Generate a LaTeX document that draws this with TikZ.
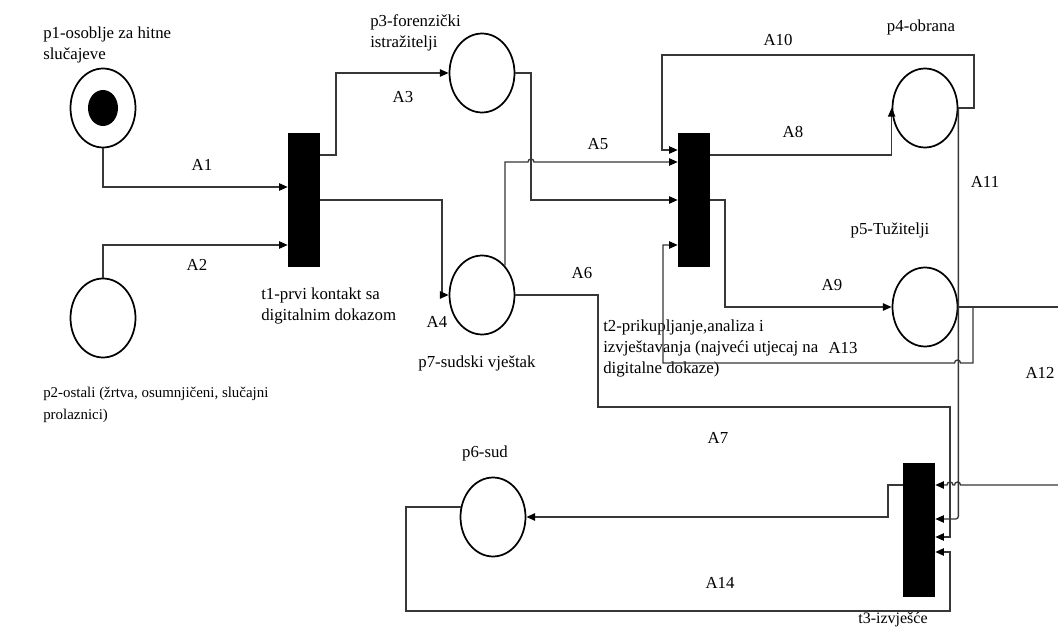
\documentclass[tikz,border=0pt]{standalone}
\usepackage{fontspec}
\setmainfont{Liberation Serif}
\usetikzlibrary{shapes.geometric,arrows.meta}
\definecolor{linec}{RGB}{55,55,55}
\begin{document}
\begin{tikzpicture}[x=0.75pt,y=-0.75pt,
  conn/.style={draw=linec, line width=1pt},
  arr/.style={conn, -{Triangle[length=6.5pt,width=5.5pt,color=black]}},
  placeN/.style={ellipse, draw=black, line width=1.3pt, minimum width=48.75pt, minimum height=59.25pt, inner sep=0pt},
  transN/.style={rectangle, fill=black, minimum width=24pt, minimum height=100.5pt, inner sep=0pt},
  tokenN/.style={ellipse, fill=black, minimum width=22.5pt, minimum height=27pt, inner sep=0pt},
  lbl/.style={inner sep=0pt, anchor=west, font=\fontsize{12.6}{15}\selectfont},
  albl/.style={inner sep=0pt, font=\fontsize{12.6}{15}\selectfont},
  smalllbl/.style={lbl, font=\fontsize{11.2}{14}\selectfont},
]
\useasboundingbox[fill=white] (0,0) rectangle (1058,627);

% places and transitions
\node[placeN] (p1) at (103,108) {};
\node[tokenN] (tok) at (103,108) {};
\node[placeN] (p2) at (103,318) {};
\node[placeN] (p3) at (482,73) {};
\node[placeN] (p7) at (482,295) {};
\node[placeN] (p4) at (925,108) {};
\node[placeN] (p5) at (925,307) {};
\node[placeN] (p6) at (493,517) {};
\node[transN] (t1) at (304,200) {};
\node[transN] (t2) at (694,200) {};
\node[transN] (t3) at (919,530) {};

% free ends (off the right edge)
\coordinate (e12a) at (1075,307);
\coordinate (e12b) at (1075,485);

% texts
\node[lbl] (l1a) at (43,34) {p1-osoblje za hitne};
\node[lbl] (l1b) at (43,55) {slučajeve};
\node[smalllbl] (l2a) at (43,394) {p2-ostali (žrtva, osumnjičeni, slučajni};
\node[smalllbl] (l2b) at (43,416) {prolaznici)};
\node[lbl] (l3a) at (370,22) {p3-forenzički};
\node[lbl] (l3b) at (370,43) {istražitelji};
\node[lbl] (lt1a) at (261,295) {t1-prvi kontakt sa};
\node[lbl] (lt1b) at (261,316) {digitalnim dokazom};
\node[lbl] (lt2a) at (603,327) {t2-prikupljanje,analiza i};
\node[lbl] (lt2b) at (603,348) {izvještavanja (najveći utjecaj na};
\node[lbl] (lt2c) at (603,369) {digitalne dokaze)};
\node[albl] (l4) at (921,27) {p4-obrana};
\node[albl] (l5) at (890,230) {p5-Tužitelji};
\node[albl] (l6) at (485,453) {p6-sud};
\node[albl] (l7) at (477,363) {p7-sudski vještak};
\node[albl, font=\fontsize{12}{14}\selectfont] (lt3) at (893,619.5) {t3-izvješće};

\node[albl] (a1) at (202,165) {A1};
\node[albl] (a2) at (197,265) {A2};
\node[albl] (a3) at (403,97) {A3};
\node[albl] (a4) at (437,322) {A4};
\node[albl] (a5) at (598,144) {A5};
\node[albl] (a6) at (582,273) {A6};
\node[albl] (a7) at (718,438) {A7};
\node[albl] (a8) at (793,132) {A8};
\node[albl] (a9) at (832,285) {A9};
\node[albl] (a10) at (778,40) {A10};
\node[albl] (a11) at (985,182) {A11};
\node[albl] (a12) at (1040,373) {A12};
\node[albl] (a13) at (843,348) {A13};
\node[albl] (a14) at (720,583) {A14};

% connectors
\draw[arr] (p1.south) |- (t1.west |- 0,187);
\draw[arr] (p2.north) |- (t1.west |- 0,245);
\draw[arr] (t1.east |- 0,155) -- (336,155) |- (p3.west);
\draw[arr] (t1.east |- 0,200) -- (442,200) |- (p7.west);
\draw[arr] (p7.52) |- (528,162) arc(180:0:2.25pt) -- (t2.west |- 0,162);
\draw[arr] (p3.east) -| (531,200) -- (t2.west |- 0,200);
\draw[arr] (p7.east) -- (598,295) |- (950,407) |- (t3.east |- 0,537);
\draw[arr] (t2.east |- 0,155) -| (p4.west);
\draw[arr] (t2.east |- 0,200) -- (725,200) |- (p5.west);
\draw[arr] (p4.east) -- (974,108) -- (974,55) -- (662,55) |- (t2.west |- 0,150);
\draw[arr, rounded corners=2pt] (p4.east) |- (t3.east |- 0,519);
\draw[conn] (p5.east) -- (e12a);
\draw[arr] (e12b) -- (960.5,485) arc(0:180:2.25pt) -- (953,485) arc(0:180:2.25pt) -- (t3.east |- 0,485);
\draw[arr] (p5.east) -- (973,307) -- (973,363) -- (960.5,363) arc(0:180:2.25pt) -- (663,363) |- (t2.west |- 0,245);
\draw[arr] (t3.west |- 0,485) -- (888,485) |- (p6.east);
\draw[arr] (p6.163) -| (406,611) -| (950,552) -- (t3.east |- 0,552);
\end{tikzpicture}
\end{document}
